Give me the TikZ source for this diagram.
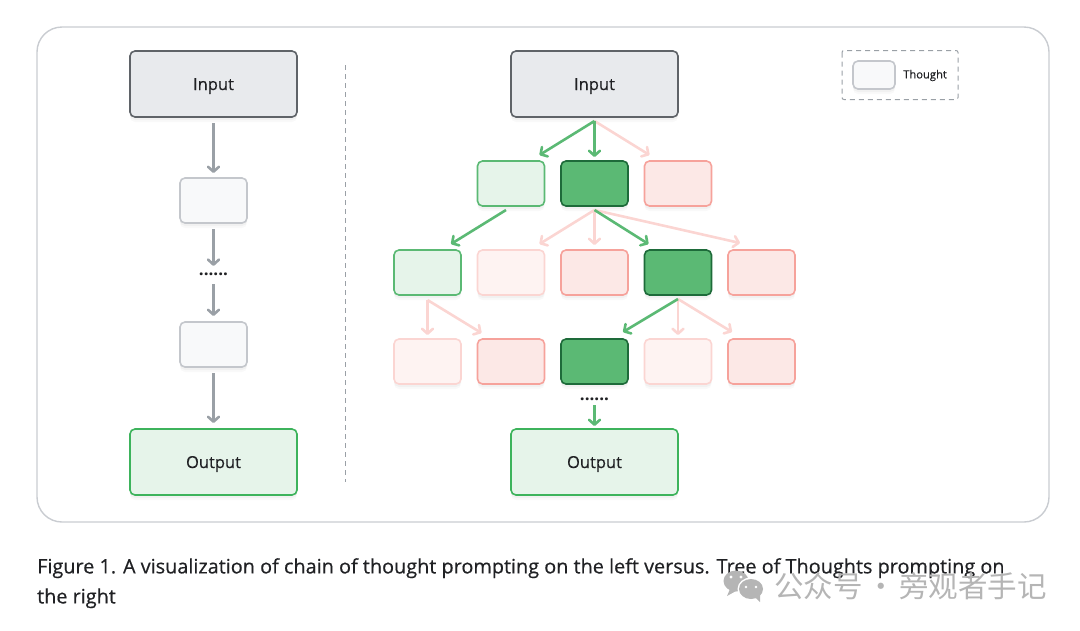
\documentclass[tikz,border=0pt]{standalone}
\usepackage{fontspec}
\setmainfont{Open Sans}
\newfontfamily\cjk{Noto Sans CJK SC}
\usetikzlibrary{arrows.meta,shadows}
\definecolor{inputfill}{HTML}{E8EAED}
\definecolor{inputline}{HTML}{5F6368}
\definecolor{thoughtfill}{HTML}{F8F9FA}
\definecolor{thoughtline}{HTML}{C4C7CC}
\definecolor{okfill}{HTML}{E6F4EA}
\definecolor{okline}{HTML}{5BB974}
\definecolor{outline}{HTML}{3DB35C}
\definecolor{bestfill}{HTML}{5BB974}
\definecolor{bestline}{HTML}{1E6B3A}
\definecolor{badfill}{HTML}{FCE8E6}
\definecolor{badline}{HTML}{F6A29B}
\definecolor{palefill}{HTML}{FEF3F2}
\definecolor{paleline}{HTML}{FBD5D2}
\definecolor{grayarrow}{HTML}{9AA0A6}
\definecolor{panelline}{HTML}{C9CCD1}
\definecolor{captiontext}{HTML}{202124}
\definecolor{markgray}{HTML}{B5B5B5}
\tikzset{
  softshadow/.style={
    drop shadow={shadow xshift=0pt,shadow yshift=-5pt,opacity=0.025,fill=black},
    drop shadow={shadow xshift=0pt,shadow yshift=-3pt,opacity=0.03,fill=black}},
  box/.style={rectangle,rounded corners=5pt,minimum width=67pt,minimum height=45pt,inner sep=0pt,outer sep=0pt,line width=1.6pt,softshadow},
  bigbox/.style={box,minimum width=167pt,minimum height=66pt,text height=13pt,text depth=1pt,font=\fontsize{16.5}{18}\selectfont\addfontfeature{FakeBold=0.4},text=captiontext},
  inputbox/.style={bigbox,draw=inputline,fill=inputfill},
  outputbox/.style={bigbox,draw=outline,fill=okfill},
  thoughtbox/.style={box,draw=thoughtline,fill=thoughtfill},
  okbox/.style={box,draw=okline,fill=okfill},
  bestbox/.style={box,draw=bestline,fill=bestfill},
  badbox/.style={box,draw=badline,fill=badfill},
  palebox/.style={box,draw=paleline,fill=palefill},
  arrowline/.style={line width=2.6pt,-{Straight Barb[length=5pt,width=11pt,round]}},
  grayline/.style={arrowline,draw=grayarrow},
  okarrow/.style={arrowline,draw=okline},
  badarrow/.style={arrowline,draw=paleline},
  dotsnode/.style={inner sep=0pt,font=\fontsize{17}{17}\selectfont\bfseries,text=captiontext}
}
\begin{document}
\begin{tikzpicture}[x=1pt,y=-1pt]
    \useasboundingbox (0,0) rectangle (1080,630);
    \draw[panelline,line width=1.4pt,rounded corners=25pt] (37,27) rectangle (1049,522);
    \draw[grayarrow,line width=1pt,dash pattern=on 5pt off 4pt] (345.5,65) -- (345.5,482);

    \node[inputbox] (inputL) at (213.5,84) {Input};
    \node[thoughtbox] (thoughtA) at (213.5,200.5) {};
    \node[dotsnode] (dotsL) at (213.5,274.5) {......};
    \node[thoughtbox] (thoughtB) at (213.5,344.5) {};
    \node[outputbox] (outputL) at (213.5,462) {Output};

    \draw[grayline] ([yshift=-6pt]inputL.south) -- ([yshift=5pt]thoughtA.north);
    \draw[grayline] ([yshift=-6pt]thoughtA.south) -- ([yshift=7pt]dotsL.north);
    \draw[grayline] ([yshift=-8pt]dotsL.south) -- ([yshift=6pt]thoughtB.north);
    \draw[grayline] ([yshift=-6pt]thoughtB.south) -- ([yshift=6pt]outputL.north);

    \node[inputbox] (inputR) at (594.5,84) {Input};
    \foreach \nm/\x/\sty in {a/511/okbox,b/594.5/bestbox,c/678/badbox}{
        \node[\sty] (top\nm) at (\x,183.5) {};
    }
    \foreach \nm/\x/\sty in {a/427.5/okbox,b/511/palebox,c/594.5/badbox,d/678/bestbox,e/761.5/badbox}{
        \node[\sty] (mid\nm) at (\x,272.5) {};
    }
    \foreach \nm/\x/\sty in {a/427.5/palebox,b/511/badbox,c/594.5/bestbox,d/678/palebox,e/761.5/badbox}{
        \node[\sty] (low\nm) at (\x,361.5) {};
    }
    \node[dotsnode] (dotsR) at (594.5,399.5) {......};
    \node[outputbox] (outputR) at (594.5,462) {Output};

    \draw[badarrow] ([yshift=-4pt]inputR.south) -- ([xshift=5pt,yshift=6pt]topc.north west);
    \draw[okarrow] ([yshift=-4pt]inputR.south) -- ([xshift=-5pt,yshift=6pt]topa.north east);
    \draw[okarrow] ([yshift=-4pt]inputR.south) -- ([yshift=4pt]topb.north);

    \draw[okarrow] ([xshift=-5pt,yshift=-4pt]topa.south) -- ([xshift=-10pt,yshift=6pt]mida.north east);

    \draw[badarrow] ([yshift=-4pt]topb.south) -- ([xshift=-5pt,yshift=6pt]midb.north east);
    \draw[badarrow] ([yshift=-4pt]topb.south) -- ([yshift=5pt]midc.north);
    \draw[badarrow] ([yshift=-4pt]topb.south) -- ([xshift=12pt,yshift=7pt]mide.north west);
    \draw[okarrow] ([yshift=-4pt]topb.south) -- ([xshift=4pt,yshift=6pt]midd.north west);

    \draw[badarrow] ([yshift=-5pt]mida.south) -- ([yshift=4pt]lowa.north);
    \draw[badarrow] ([yshift=-5pt]mida.south) -- ([xshift=4pt,yshift=6pt]lowb.north west);
    \draw[badarrow] ([yshift=-4pt]midd.south) -- ([yshift=4pt]lowd.north);
    \draw[badarrow] ([yshift=-4pt]midd.south) -- ([xshift=4pt,yshift=7pt]lowe.north west);
    \draw[okarrow] ([yshift=-4pt]midd.south) -- ([xshift=-5pt,yshift=7pt]lowc.north east);

    \draw[okarrow] ([yshift=-4pt]dotsR.south) -- ([yshift=3pt]outputR.north);

    \draw[grayarrow,line width=1pt,dash pattern=on 5pt off 4pt,rounded corners=2pt] (842,50.5) rectangle (958,99.5);
    \node[thoughtbox,minimum width=42pt,minimum height=28pt] (legendbox) at (874,75) {};
    \node[right=8pt,inner sep=0pt,yshift=-0.5pt,font=\fontsize{11.2}{12}\selectfont\addfontfeature{FakeBold=0.2},text=captiontext] (legendlabel) at (legendbox.east) {Thought};

    \node[anchor=north west,inner sep=0pt,align=left,text=captiontext,font=\fontsize{19.85}{30}\selectfont\addfontfeature{FakeBold=0.5}] (caption) at (37,558)
        {Figure 1. A visualization of chain of thought prompting on the left versus. Tree of Thoughts prompting on\\the right};

    \fill[markgray] (736,581) ellipse [x radius=12.5pt,y radius=10.5pt];
    \fill[markgray] (730,589) -- (727,596) -- (736,591) -- cycle;
    \fill[white] (751,589) ellipse [x radius=13.5pt,y radius=11.5pt];
    \fill[markgray] (751,589) ellipse [x radius=12pt,y radius=10pt];
    \fill[markgray] (755,597) -- (760,602) -- (760,594) -- cycle;
    \foreach \x/\y/\r in {731/577/1.6,741/577/1.6,746/587/1.4,756/587/1.4}{
        \fill[white] (\x,\y) circle [radius=\r pt];
    }
    \node[anchor=west,inner sep=0pt,text=markgray,font=\cjk\fontsize{29.5}{30}\selectfont] (watermark) at (774,586) {公众号\kern-3pt{} · {}\kern-3pt 旁观者手记};
\end{tikzpicture}
\end{document}
